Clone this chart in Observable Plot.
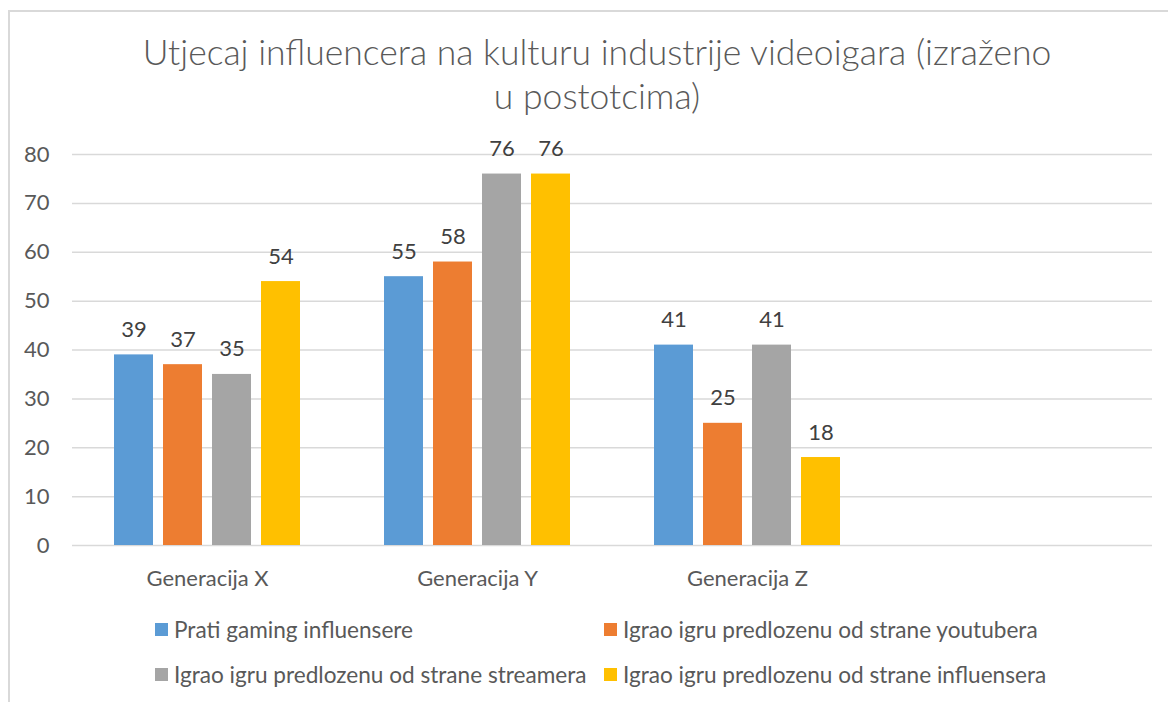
<!DOCTYPE html>
<html>
<head>
<meta charset="utf-8">
<script src="https://cdn.jsdelivr.net/npm/d3@7"></script>
<script src="https://cdn.jsdelivr.net/npm/@observablehq/plot@0.6"></script>
<style>
  html, body { margin: 0; padding: 0; background: #fff; }
  body { width: 1168px; height: 702px; position: relative; overflow: hidden; font-family: Lato, "Open Sans", sans-serif; color: #595959; }
  #frame { position: absolute; left: 8px; top: 10px; width: 1200px; height: 700px; border-left: 2px solid #d9d9d9; border-top: 2px solid #d9d9d9; box-sizing: border-box; }
  #title { position: absolute; left: 8px; width: 1178px; top: 30px; text-align: center; font-weight: 300; font-size: 35.5px; line-height: 44px; color: #595959; white-space: pre-line; }
  #chart { position: absolute; left: 0; top: 130px; }
  #legend { position: absolute; left: 0; top: 0; width: 1168px; }
  .item { position: absolute; display: flex; align-items: center; font-size: 22.6px; color: #595959; white-space: nowrap; }
  .sw { width: 13px; height: 13px; margin-right: 6px; flex: none; }
</style>
</head>
<body>
<div id="frame"></div>
<div id="title"></div>
<div id="chart"></div>
<div id="legend"></div>
<script>
const titleText = "Utjecaj influencera na kulturu industrije videoigara (izraženo\nu postotcima)";
const groups = ["Generacija X", "Generacija Y", "Generacija Z"];
const emptySlot = "";
const series = [
  "Prati gaming influensere",
  "Igrao igru predlozenu od strane youtubera",
  "Igrao igru predlozenu od strane streamera",
  "Igrao igru predlozenu od strane influensera"
];
const pratiGaming = [39, 55, 41];
const youtubera = [37, 58, 25];
const streamera = [35, 76, 41];
const influensera = [54, 76, 18];
const colors = ["#5B9BD5", "#ED7D31", "#A5A5A5", "#FFC000"];
const yTicks = [0, 10, 20, 30, 40, 50, 60, 70, 80];

const seriesValues = [pratiGaming, youtubera, streamera, influensera];
const rows = groups.flatMap((g, i) => series.map((s, j) => ({group: g, series: s, value: seriesValues[j][i]})));
const slots = [...groups, emptySlot];
const gridRows = slots.flatMap(slot => yTicks.map(tick => ({slot, tick})));

document.getElementById("title").textContent = titleText;

const chart = Plot.plot({
  width: 1168,
  height: 465,
  marginLeft: 72,
  marginRight: 16,
  marginTop: 24,
  marginBottom: 50,
  style: {fontFamily: "Lato, 'Open Sans', sans-serif", fontSize: "22px", color: "#595959", background: "transparent"},
  fx: {domain: slots, padding: 0, label: null, tickSize: 0, tickPadding: 25, axis: "bottom"},
  x: {domain: series, axis: null, paddingInner: 10 / 49, paddingOuter: 0.857},
  y: {domain: [0, 80], ticks: yTicks, tickSize: 0, tickPadding: 23, label: null},
  color: {domain: series, range: colors},
  marks: [
    Plot.ruleY(gridRows, {fx: "slot", y: "tick", stroke: "#d9d9d9", strokeWidth: 1.5}),
    Plot.barY(rows, {fx: "group", x: "series", y: "value", fill: "series"}),
    Plot.text(rows, {fx: "group", x: "series", y: "value", text: d => String(d.value), dy: -18, lineAnchor: "bottom", fill: "#404040"})
  ]
});
document.getElementById("chart").appendChild(chart);

const legend = document.getElementById("legend");
const pos = [[155, 630], [604, 630], [155, 675], [604, 675]];
series.forEach((s, i) => {
  const it = document.createElement("div");
  it.className = "item";
  it.style.left = pos[i][0] + "px";
  it.style.top = (pos[i][1] - 14) + "px";
  const sw = document.createElement("span");
  sw.className = "sw";
  sw.style.background = colors[i];
  const tx = document.createElement("span");
  tx.textContent = s;
  it.appendChild(sw);
  it.appendChild(tx);
  legend.appendChild(it);
});
</script>
</body>
</html>
